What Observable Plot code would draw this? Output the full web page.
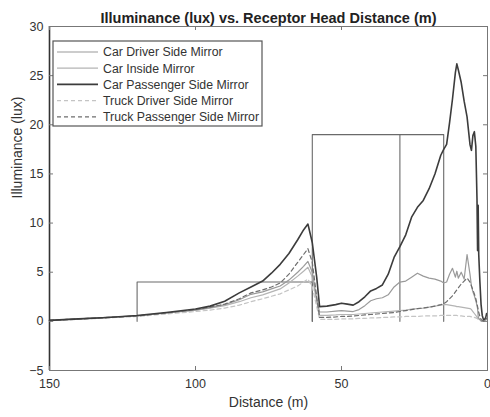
<!DOCTYPE html>
<html>
<head>
<meta charset="utf-8">
<script src="https://cdn.jsdelivr.net/npm/d3@7"></script>
<script src="https://cdn.jsdelivr.net/npm/@observablehq/plot@0.6"></script>
<style>
  html, body { margin: 0; padding: 0; background: #fff; }
  #chart { width: 490px; height: 417px; position: relative; }
</style>
</head>
<body>
<div id="chart"></div>
<script>
// ---- data ----
const distance = [150,140,130,120,110,100,95,90,85,81,77,74,71,68,65,63,61.5,60,58.5,57.5,
  55,52,50,48,46,44,42,40,38,36,34,32,30,28,26,24,22,20,18,16,
  15,14,13,12,11,10.5,10,9,8,7,6,5.5,5,4.5,4,3.6,3.4,3.2,3.0,2.6,
  2.2,1.8,1.4,1.0,0.6,0.3];

const carDriver = [0.1,0.25,0.4,0.55,0.85,1.15,1.4,1.7,2.2,2.75,3.0,3.3,3.6,4.2,5.0,5.6,6.1,5.0,2.3,0.95,
  0.95,1.05,1.1,1.05,1.0,1.2,1.6,2.1,2.3,2.4,2.7,3.5,4.0,4.1,4.5,4.9,4.6,4.4,4.3,4.1,
  3.9,4.0,4.8,5.4,4.5,5.1,4.4,5.0,4.3,6.8,4.8,3.6,3.0,2.6,2.1,1.6,1.3,0.5,0.3,0.15,
  0.05,0.0,0.0,0.05,0.15,0.3];

const carInside = [0.1,0.25,0.4,0.55,0.85,1.15,1.35,1.6,2.0,2.4,2.7,3.0,3.3,3.9,4.6,5.1,5.5,4.5,2.0,0.6,
  0.6,0.65,0.7,0.7,0.7,0.75,0.8,0.85,0.9,0.95,1.0,1.05,1.1,1.15,1.25,1.3,1.35,1.45,1.55,1.65,
  1.7,1.7,1.65,1.6,1.55,1.5,1.5,1.45,1.4,1.35,1.3,1.2,1.0,0.8,0.6,0.45,0.35,0.3,0.25,0.2,
  0.1,0.05,0.05,0.1,0.2,0.3];

const carPassenger = [0.1,0.25,0.4,0.6,0.9,1.25,1.55,2.05,2.9,3.5,4.1,4.9,5.8,6.9,8.3,9.3,9.9,8.0,4.5,1.5,
  1.55,1.7,1.85,1.75,1.65,2.0,2.5,3.1,3.35,3.7,4.8,6.5,7.6,8.8,10.6,11.6,12.3,13.5,15.0,16.9,
  17.5,18.0,20.2,22.6,25.3,26.2,25.6,24.3,22.4,20.8,18.0,17.4,18.9,19.3,17.8,12.5,7.2,11.8,6.8,4.0,
  1.7,0.6,0.2,0.2,0.4,0.8];

const truckDriver = [0.05,0.2,0.35,0.5,0.75,1.0,1.15,1.35,1.65,2.0,2.3,2.55,2.8,3.2,3.6,4.0,4.3,3.5,1.5,0.2,
  0.2,0.2,0.25,0.25,0.25,0.3,0.3,0.35,0.35,0.4,0.4,0.45,0.45,0.5,0.5,0.5,0.55,0.55,0.55,0.6,
  0.6,0.6,0.6,0.6,0.6,0.6,0.55,0.55,0.5,0.5,0.5,0.45,0.45,0.4,0.35,0.3,0.25,0.2,0.15,0.1,
  0.05,0.0,0.0,0.05,0.1,0.2];

const truckPassenger = [0.1,0.25,0.4,0.55,0.85,1.2,1.45,1.75,2.3,2.9,3.2,3.5,3.9,4.8,6.0,6.8,7.4,6.0,2.5,0.4,
  0.4,0.45,0.5,0.5,0.55,0.6,0.65,0.7,0.75,0.8,0.85,0.9,1.0,1.1,1.2,1.3,1.35,1.45,1.55,1.7,
  1.8,2.0,2.3,2.6,3.0,3.2,3.4,3.8,4.1,4.4,4.0,3.6,3.2,2.8,2.3,1.8,1.5,1.2,0.9,0.5,
  0.2,0.1,0.05,0.1,0.2,0.3];

const seriesNames = ["Car Driver Side Mirror","Car Inside Mirror","Car Passenger Side Mirror","Truck Driver Side Mirror","Truck Passenger Side Mirror"];
const seriesValues = [carDriver, carInside, carPassenger, truckDriver, truckPassenger];

// zone outlines (distance, lux)
const zone1X = [120,120,60,60];
const zone1Y = [0,4,4,0];
const zone2X = [60,60,15,15];
const zone2Y = [0,19,19,0];
const dividerX = [30,30];
const dividerY = [0,19];

const xTicks = [150,100,50,0];
const yTicks = [-5,0,5,10,15,20,25,30];
const titleText = "Illuminance (lux) vs. Receptor Head Distance (m)";
const xLabel = "Distance (m)";
const yLabel = "Illuminance (lux)";

// ---- styles ----
const styles = [
  {stroke: "#9a9a9a", dash: null, width: 1.2},
  {stroke: "#b4b4b4", dash: null, width: 1.2},
  {stroke: "#3c3c3c", dash: null, width: 1.6},
  {stroke: "#c4c4c4", dash: "4,3", width: 1.2},
  {stroke: "#6e6e6e", dash: "4,3", width: 1.2}
];

const tables = seriesValues.map((vals, s) =>
  distance.map((d, i) => ({series: seriesNames[s], d, v: vals[i]})));

const zoneLine = (xs, ys) => Plot.line(xs.map((x, i) => ({x, y: ys[i]})),
  {x: "x", y: "y", stroke: "#6a6a6a", strokeWidth: 1.1});

const W = 490, H = 417, ML = 49, MR = 3, MT = 26, MB = 47;
const fw = W - ML - MR, fh = H - MT - MB;

const drawOrder = [3, 1, 0, 4, 2];

const plot = Plot.plot({
  width: W, height: H,
  marginLeft: ML, marginRight: MR, marginTop: MT, marginBottom: MB,
  style: {fontFamily: "'Liberation Sans', Arial, sans-serif", fontSize: "12px", color: "#333", background: "#fff"},
  x: {domain: [150, 0]},
  y: {domain: [-5, 30]},
  marks: [
    zoneLine(zone1X, zone1Y),
    zoneLine(zone2X, zone2Y),
    zoneLine(dividerX, dividerY),
    ...drawOrder.map(s => Plot.line(tables[s], {
      x: "d", y: "v", stroke: styles[s].stroke, strokeWidth: styles[s].width,
      strokeDasharray: styles[s].dash, strokeLinejoin: "round"
    })),
    Plot.frame({stroke: "#777", strokeWidth: 1}),
    Plot.ruleX([150], {stroke: "#333", strokeWidth: 1.6}),
    // inward ticks
    Plot.ruleX(xTicks, {x: d => d, insetTop: fh - 4, stroke: "#777"}),
    Plot.ruleX(xTicks, {x: d => d, insetBottom: fh - 4, stroke: "#777"}),
    Plot.ruleY(yTicks, {y: d => d, insetRight: fw - 4, stroke: "#777"}),
    Plot.ruleY(yTicks, {y: d => d, insetLeft: fw - 4, stroke: "#777"}),
    Plot.axisX(xTicks, {tickSize: 0, tickPadding: 9, label: null, fontSize: 12.5, color: "#333"}),
    Plot.axisY(yTicks, {tickSize: 0, tickPadding: 6, label: null, fontSize: 12.5, color: "#333"}),
    Plot.text([xLabel], {frameAnchor: "bottom", dy: 36, fontSize: 14, fill: "#333"}),
    Plot.text([yLabel], {frameAnchor: "left", dx: -32, rotate: -90, fontSize: 14, fill: "#333"}),
    Plot.text([titleText], {frameAnchor: "top", dy: -14, fontWeight: "bold", fontSize: 14.5, fill: "#222"})
  ]
});

document.getElementById("chart").appendChild(plot);

// ---- legend (inside axes, top-left) ----
const svg = d3.select(plot);
const lg = svg.append("g").attr("transform", "translate(53,41)").attr("text-anchor", "start");
lg.append("rect").attr("width", 209).attr("height", 85)
  .attr("fill", "#fff").attr("stroke", "#555").attr("stroke-width", 1.2);
seriesNames.forEach((name, s) => {
  const y = 11 + s * 16.2;
  lg.append("line").attr("x1", 4).attr("x2", 45).attr("y1", y).attr("y2", y)
    .attr("stroke", styles[s].stroke).attr("stroke-width", styles[s].width)
    .attr("stroke-dasharray", styles[s].dash);
  lg.append("text").attr("x", 50).attr("y", y).attr("dy", "0.35em")
    .attr("text-anchor", "start")
    .attr("font-size", 12.3).attr("fill", "#333")
    .attr("font-family", "'Liberation Sans', Arial, sans-serif")
    .text(name);
});
</script>
</body>
</html>
